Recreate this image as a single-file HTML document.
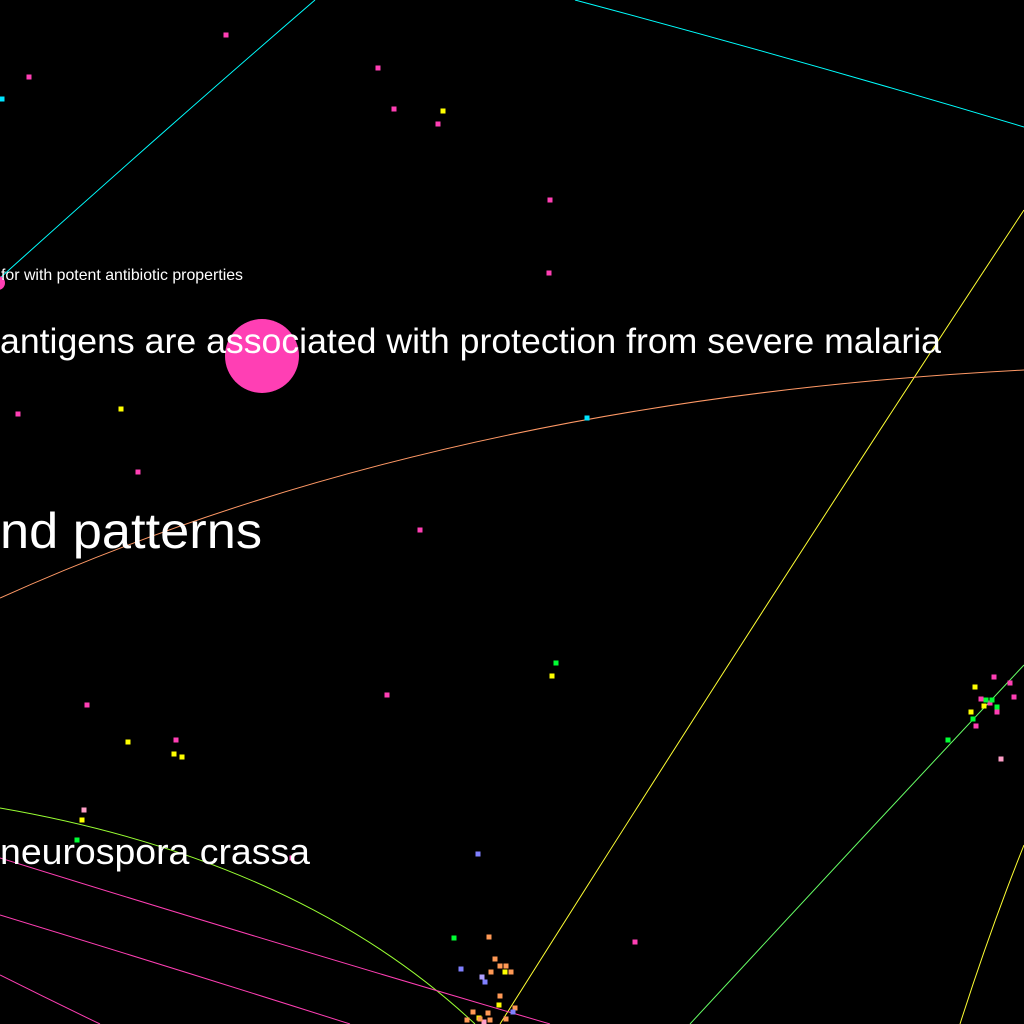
<!DOCTYPE html>
<html><head><meta charset="utf-8"><style>
html,body{margin:0;padding:0;background:#000;width:1024px;height:1024px;overflow:hidden}
svg{display:block}
text{font-family:"Liberation Sans",sans-serif;fill:#fff}
</style></head><body>
<svg id="chart" width="1024" height="1024" viewBox="0 0 1024 1024">
<rect width="1024" height="1024" fill="#000"/>
<g id="edges" fill="none" stroke-width="1"></g>
<circle cx="262" cy="356" r="37" fill="#ff3fb4"/>
<circle cx="-2" cy="283" r="7" fill="#ff3fb4"/>
<g id="nodes"></g>
<text x="1" y="280" font-size="16" textLength="242" lengthAdjust="spacingAndGlyphs">for with potent antibiotic properties</text>
<text x="0" y="353" font-size="35" textLength="941" lengthAdjust="spacingAndGlyphs">antigens are associated with protection from severe malaria</text>
<text x="0" y="548" font-size="50" textLength="262" lengthAdjust="spacingAndGlyphs">nd patterns</text>
<text x="0" y="864" font-size="36" textLength="310" lengthAdjust="spacingAndGlyphs">neurospora crassa</text>
</svg>
<script>
const edgeColors = ["#00ffff","#00ffff","#ffff33","#ff9966","#66ff66","#ffff33","#99ff33","#ff3fb4","#ff3fb4","#ff3fb4"];
const edgePaths = [
 [[0,278],[170,125],[315,0]],
 [[575,0],[800,60],[1024,127]],
 [[1024,210],[780,580],[500,1024]],
 [[0,598],[440,400],[1024,370]],
 [[1024,665],[860,840],[690,1024]],
 [[1024,845],[990,930],[960,1024]],
 [[0,808],[300,860],[475,1024]],
 [[0,858],[280,945],[550,1024]],
 [[0,915],[180,970],[350,1024]],
 [[0,975],[50,1000],[100,1024]]
];
const nodeColors = {pink:"#ff3fb4",lpink:"#ff9fc8",yellow:"#ffff00",cyan:"#00e5ff",green:"#00ff33",orange:"#ff9955",purple:"#8080ff",lav:"#b0a0ff"};
const nodeGroups = ["pink","lpink","yellow","cyan","green","orange","purple","lav"];
const nodeX = {
 pink:[226,29,378,394,438,550,549,18,138,420,87,387,176,635,994,1010,1014,981,997,990,976,292],
 lpink:[84,1001,484],
 yellow:[443,121,128,174,182,552,82,975,984,971,505,499,479],
 cyan:[2,587],
 green:[556,77,454,948,973,986,992,997],
 orange:[489,495,491,500,506,511,500,473,480,488,506,515,490,467],
 purple:[478,461,485,513],
 lav:[482]
};
const nodeY = {
 pink:[35,77,68,109,124,200,273,414,472,530,705,695,740,942,677,683,697,699,712,703,726,858],
 lpink:[810,759,1022],
 yellow:[111,409,742,754,757,676,820,687,706,712,972,1005,1018],
 cyan:[99,418],
 green:[663,840,938,740,719,700,700,707],
 orange:[937,959,972,966,966,972,996,1012,1019,1013,1019,1008,1020,1020],
 purple:[854,969,982,1012],
 lav:[977]
};
const NS="http://www.w3.org/2000/svg";
const eg=document.getElementById('edges');
edgePaths.forEach((p,i)=>{
 const el=document.createElementNS(NS,'path');
 el.setAttribute('d',`M${p[0][0]},${p[0][1]} Q${p[1][0]},${p[1][1]} ${p[2][0]},${p[2][1]}`);
 el.setAttribute('stroke',edgeColors[i]);
 
 
 eg.appendChild(el);
});
const ng=document.getElementById('nodes');
nodeGroups.forEach(g=>{
 nodeX[g].forEach((x,i)=>{
  const el=document.createElementNS(NS,'rect');
  el.setAttribute('x',x-2.5);el.setAttribute('y',nodeY[g][i]-2.5);
  el.setAttribute('width',5);el.setAttribute('height',5);
  el.setAttribute('fill',nodeColors[g]);
  
  
  ng.appendChild(el);
 });
});
</script>
</body></html>
